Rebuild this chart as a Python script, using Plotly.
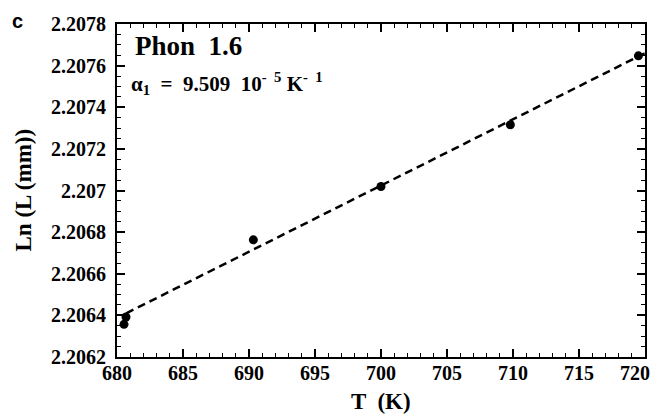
import plotly.graph_objects as go

# Data
T = [680.53, 680.68, 690.33, 700.0, 709.8, 719.5]
lnL = [2.206357, 2.206392, 2.206763, 2.207019, 2.207316, 2.207647]
fit_T = [680.7, 720.0]
fit_lnL = [2.20641, 2.20766]

x_ticks = [680, 685, 690, 695, 700, 705, 710, 715, 720]
x_tick_labels = ["680", "685", "690", "695", "700", "705", "710", "715", "720"]
y_ticks = [2.2062, 2.2064, 2.2066, 2.2068, 2.207, 2.2072, 2.2074, 2.2076, 2.2078]
y_tick_labels = ["2.2062", "2.2064", "2.2066", "2.2068", "2.207", "2.2072", "2.2074", "2.2076", "2.2078"]

NB = "\u00a0"
xt = ["<b>%s</b>" % s for s in x_tick_labels]
xt[-1] = "<b>%s</b>" % x_tick_labels[-1] + NB * 4
yt = ["<b>%s</b>" % s for s in y_tick_labels]

fig = go.Figure()
fig.add_trace(go.Scatter(x=fit_T, y=fit_lnL, mode="lines",
                         line=dict(color="black", width=2.5, dash="8px,5px"),
                         showlegend=False, hoverinfo="skip"))
fig.add_trace(go.Scatter(x=T, y=lnL, mode="markers",
                         marker=dict(color="black", size=9),
                         showlegend=False))

font_tick = dict(family="Liberation Serif", size=20, color="black")

fig.update_xaxes(range=[680, 720], tickvals=x_ticks, ticktext=xt,
                 ticklabeloverflow="allow", automargin=False, ticklabelstandoff=-3,
                 ticks="inside", ticklen=8, tickwidth=1.5, tickcolor="black",
                 minor=dict(dtick=1, ticks="inside", ticklen=4, tickwidth=1.2, tickcolor="black"),
                 showline=True, linecolor="black", linewidth=2, mirror="ticks",
                 showgrid=False, zeroline=False, tickfont=font_tick)
fig.update_yaxes(range=[2.2062, 2.2078], tickvals=y_ticks, ticktext=yt,
                 automargin=False, ticklabelstandoff=5,
                 ticks="inside", ticklen=8, tickwidth=1.5, tickcolor="black",
                 minor=dict(dtick=0.00005, tick0=2.2062, ticks="inside", ticklen=4, tickwidth=1.2, tickcolor="black"),
                 showline=True, linecolor="black", linewidth=2, mirror="ticks",
                 showgrid=False, zeroline=False, tickfont=font_tick)

# axis titles
fig.add_annotation(x=0.5, y=0.0, xref="paper", yref="paper", xanchor="center", yanchor="middle",
                   yshift=-44, text="<b>T  (K)</b>", showarrow=False,
                   font=dict(family="Liberation Serif", size=23, color="black"))
fig.add_annotation(x=0.0, y=0.5, xref="paper", yref="paper", xanchor="center", yanchor="middle",
                   xshift=-94, textangle=-90, text="<b>Ln (L (mm))</b>", showarrow=False,
                   font=dict(family="Liberation Serif", size=23, color="black"))

fig.add_annotation(x=0.0, y=1.0, xref="paper", yref="paper", xanchor="left", yanchor="top",
                   xshift=-107, yshift=16,
                   text="<b>c</b>", showarrow=False,
                   font=dict(family="Liberation Sans", size=20, color="black"))
fig.add_annotation(x=0.0, y=1.0, xref="paper", yref="paper", xanchor="left", yanchor="top",
                   xshift=16, yshift=-5,
                   text="<b>Phon  1.6</b>", showarrow=False,
                   font=dict(family="Liberation Serif", size=27, color="black"))
fig.add_annotation(x=0.0, y=1.0, xref="paper", yref="paper", xanchor="left", yanchor="top",
                   xshift=12, yshift=-43,
                   text="<b>α<sub>1</sub>  =  9.509  10<sup>-  5</sup> K<sup>-  1</sup></b>", showarrow=False,
                   font=dict(family="Liberation Serif", size=21, color="black"))

fig.update_layout(width=657, height=416, margin=dict(l=117, r=12, t=24, b=59),
                  paper_bgcolor="white", plot_bgcolor="white")
fig.write_html("out.html")
